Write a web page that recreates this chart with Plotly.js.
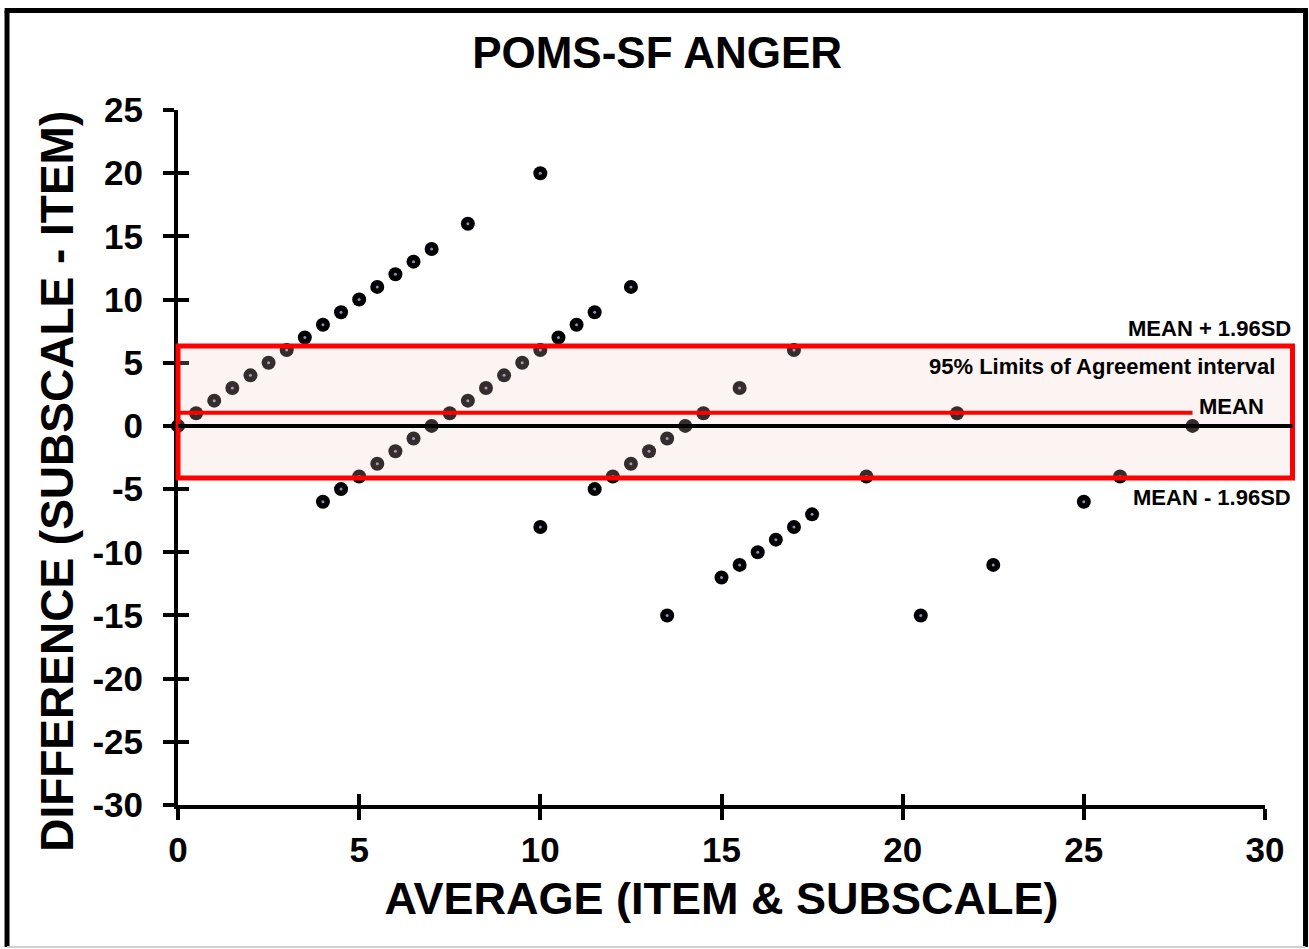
<!DOCTYPE html>
<html>
<head>
<meta charset="utf-8">
<script src="https://cdn.plot.ly/plotly-3.0.1.min.js"></script>
<style>
  html, body { margin: 0; padding: 0; background: #ffffff; }
  #chart { width: 1309px; height: 949px; }
</style>
</head>
<body>
<div id="chart"></div>
<script>
// Average of item & subscale (x) and difference subscale - item (y)
const average = [
  0, 0.5, 1, 1.5, 2, 2.5, 3, 3.5, 4, 4.5, 5, 5.5, 6, 6.5, 7, 8, 10,
  4, 4.5, 5, 5.5, 6, 6.5, 7, 7.5, 8, 8.5, 9, 9.5, 10, 10.5, 11, 11.5, 12.5,
  10, 11.5, 12, 12.5, 13, 13.5, 14, 14.5, 15.5, 17,
  13.5, 15, 15.5, 16, 16.5, 17, 17.5, 19, 21.5, 20.5, 22.5, 25, 26, 28
];
const difference = [
  0, 1, 2, 3, 4, 5, 6, 7, 8, 9, 10, 11, 12, 13, 14, 16, 20,
  -6, -5, -4, -3, -2, -1, 0, 1, 2, 3, 4, 5, 6, 7, 8, 9, 11,
  -8, -5, -4, -3, -2, -1, 0, 1, 3, 6,
  -15, -12, -11, -10, -9, -8, -7, -4, 1, -15, -11, -6, -4, 0
];
const meanDiff = 1.05;
const upperLoA = 6.33;
const lowerLoA = -4.12;
const meanLineEnd = 28;
const xTicks = [0, 5, 10, 15, 20, 25, 30];
const xTickLabels = ['0', '5', '10', '15', '20', '25', '30'];
const yTicks = [25, 20, 15, 10, 5, 0, -5, -10, -15, -20, -25, -30];
const yTickLabels = ['25', '20', '15', '10', '5', '0', '-5', '-10', '-15', '-20', '-25', '-30'];

const FONT = '"Liberation Sans", Arial, sans-serif';

const traces = [
  {
    type: 'scatter', mode: 'markers', x: average, y: difference,
    marker: { color: '#000000', size: 14, line: { width: 0 } },
    cliponaxis: false, hoverinfo: 'x+y', showlegend: false
  },
  {
    type: 'scatter', mode: 'markers', x: average, y: difference,
    marker: { color: '#8a90b8', size: 3, line: { width: 0 } },
    cliponaxis: false, hoverinfo: 'skip', showlegend: false
  },
  { type: 'scatter', mode: 'markers', x: [], y: [], xaxis: 'x2', yaxis: 'y2', showlegend: false, hoverinfo: 'skip' }
];

const baseAxis = {
  tickfont: { family: FONT, size: 35, color: '#000', weight: 'bold' },
  showgrid: false, zeroline: false,
  tickcolor: '#000', tickwidth: 4, ticklen: 11
};

const layout = {
  width: 1309, height: 949,
  paper_bgcolor: '#ffffff', plot_bgcolor: 'rgba(0,0,0,0)',
  margin: { l: 178, r: 44, t: 110, b: 144 },
  showlegend: false,
  title: {
    text: 'POMS-SF ANGER',
    font: { family: FONT, size: 44, color: '#000', weight: 'bold' },
    x: 0.502, xanchor: 'center', y: 0.945, yanchor: 'middle'
  },
  xaxis: Object.assign({}, baseAxis, {
    range: [0, 30], tickmode: 'array', tickvals: xTicks, ticktext: xTickLabels,
    ticks: 'outside', showline: true, linecolor: '#000', linewidth: 4,
    ticklabelstandoff: 0,
    title: { text: 'AVERAGE (ITEM & SUBSCALE)', standoff: 15,
      font: { family: FONT, size: 45, color: '#000', weight: 'bold' } }
  }),
  yaxis: Object.assign({}, baseAxis, {
    range: [-30, 25], tickmode: 'array', tickvals: yTicks, ticktext: yTickLabels,
    ticks: 'outside', showline: true, linecolor: '#000', linewidth: 4,
    ticklabelstandoff: 13
  }),
  xaxis2: {
    overlaying: 'x', anchor: 'y2', side: 'bottom', range: [0, 30],
    tickmode: 'array', tickvals: xTicks, ticks: 'inside', ticklen: 11,
    tickwidth: 4, tickcolor: '#000', showticklabels: false,
    showline: false, showgrid: false, zeroline: false
  },
  yaxis2: {
    overlaying: 'y', anchor: 'x2', side: 'left', range: [-30, 25],
    tickmode: 'array', tickvals: yTicks, ticks: 'inside', ticklen: 11,
    tickwidth: 4, tickcolor: '#000', showticklabels: false,
    showline: false, showgrid: false, zeroline: false
  },
  shapes: [
    // limits of agreement band
    { type: 'rect', xref: 'paper', yref: 'y', x0: 0, x1: 1.0253, y0: lowerLoA, y1: upperLoA,
      fillcolor: 'rgba(240,200,200,0.22)', line: { color: '#ff0000', width: 5 }, layer: 'above' },
    // zero line
    { type: 'line', xref: 'paper', yref: 'y', x0: 0, x1: 1.0253, y0: 0, y1: 0,
      line: { color: '#000', width: 4 }, layer: 'above' },
    // mean line
    { type: 'line', xref: 'x', yref: 'y', x0: 0, x1: meanLineEnd, y0: meanDiff, y1: meanDiff,
      line: { color: '#ff0000', width: 4 }, layer: 'above' },
    // outer frame
    { type: 'line', xref: 'paper', yref: 'paper', x0: -0.1573, x1: -0.1573, y0: -0.2043, y1: 1.1432,
      line: { color: '#000', width: 5 } },
    { type: 'line', xref: 'paper', yref: 'paper', x0: -0.1595, x1: 1.0395, y0: 1.1432, y1: 1.1432,
      line: { color: '#000', width: 5 } },
    { type: 'line', xref: 'paper', yref: 'paper', x0: 1.0373, x1: 1.0373, y0: -0.2043, y1: 1.1432,
      line: { color: '#000', width: 5 } },
    { type: 'line', xref: 'paper', yref: 'paper', x0: -0.1573, x1: 1.0373, y0: -0.2043, y1: -0.2043,
      line: { color: '#d0d0d0', width: 2 } }
  ],
  annotations: [
    { xref: 'paper', yref: 'paper', x: -0.1113, y: 0.465, xanchor: 'center', yanchor: 'middle',
      textangle: -90, text: 'DIFFERENCE (SUBSCALE - ITEM)', showarrow: false,
      font: { family: FONT, size: 46, color: '#000', weight: 'bold' } },
    { xref: 'paper', yref: 'y', x: 1.0253, y: upperLoA, xanchor: 'right', yanchor: 'middle',
      yshift: 17, text: 'MEAN + 1.96SD', showarrow: false,
      font: { family: FONT, size: 22, color: '#000', weight: 'bold' } },
    { xref: 'paper', yref: 'y', x: 1.011, y: upperLoA, xanchor: 'right', yanchor: 'middle',
      yshift: -21, text: '95% Limits of Agreement interval', showarrow: false,
      font: { family: FONT, size: 22, color: '#000', weight: 'bold' } },
    { xref: 'x', yref: 'y', x: meanLineEnd, y: meanDiff, xanchor: 'left', yanchor: 'middle',
      xshift: 4, yshift: 6, text: 'MEAN', showarrow: false,
      font: { family: FONT, size: 22, color: '#000', weight: 'bold' } },
    { xref: 'paper', yref: 'y', x: 1.0253, y: lowerLoA, xanchor: 'right', yanchor: 'middle',
      yshift: -20, text: 'MEAN - 1.96SD', showarrow: false,
      font: { family: FONT, size: 22, color: '#000', weight: 'bold' } }
  ]
};

Plotly.newPlot('chart', traces, layout, { displayModeBar: false, staticPlot: true });
</script>
</body>
</html>
